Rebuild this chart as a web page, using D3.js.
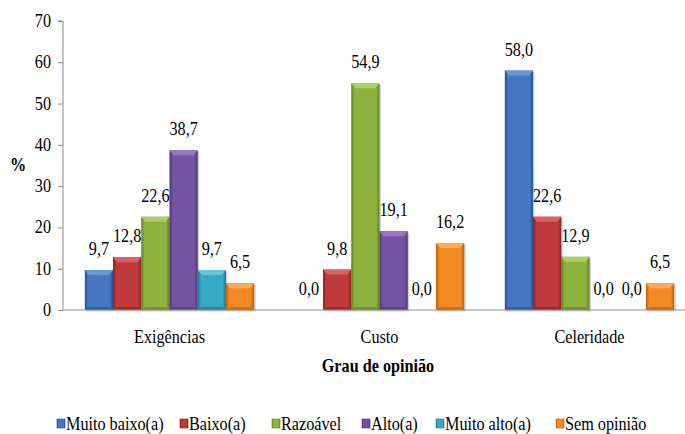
<!DOCTYPE html>
<html>
<head>
<meta charset="utf-8">
<script src="https://cdn.jsdelivr.net/npm/d3@7"></script>
</head>
<body style="margin:0">
<svg id="chart" width="685" height="434"></svg>
<script>
// Survey results: share of respondents (%) per opinion level
const categories = ["Exigências", "Custo", "Celeridade"];
const seriesNames = ["Muito baixo(a)", "Baixo(a)", "Razoável", "Alto(a)", "Muito alto(a)", "Sem opinião"];
const muitoBaixo = [9.7, 0.0, 58.0];
const baixo      = [12.8, 9.8, 22.6];
const razoavel   = [22.6, 54.9, 12.9];
const alto       = [38.7, 19.1, 0.0];
const muitoAlto  = [9.7, 0.0, 0.0];
const semOpiniao = [6.5, 16.2, 6.5];
const yTicks = [0, 10, 20, 30, 40, 50, 60, 70];
const seriesValues = [muitoBaixo, baixo, razoavel, alto, muitoAlto, semOpiniao];

// Base / dark / light tones for each series
const palette = [
  { base: "#4677c0", dark: "#234f8f", light: "#6f9ad6" },
  { base: "#c0393b", dark: "#8a1f21", light: "#d9686a" },
  { base: "#8db33e", dark: "#5e7e22", light: "#b0cf6a" },
  { base: "#7553a3", dark: "#4c3275", light: "#9a7dc4" },
  { base: "#36a9c6", dark: "#1b7790", light: "#6cc6dc" },
  { base: "#f28a22", dark: "#b85f0b", light: "#f8ae5f" }
];

const FS = 18, SX = 0.9; // font size and horizontal squeeze of the serif text

const svg = d3.select("#chart");
const margin = { left: 63, top: 21, bottom: 310 };
const y = d3.scaleLinear().domain([0, 70]).range([margin.bottom, margin.top]);
const x0 = d3.scaleBand().domain(categories).range([64.5, 694.5]);
const x1 = d3.scaleBand().domain(seriesNames).range([0, x0.bandwidth()]).paddingOuter(0.72);

const marks = svg.append("g");
const texts = []; // collected, drawn last straight into the svg root

function label(tx, ty, str, anchor, weight) {
  texts.push({ tx, ty, str, anchor: anchor || "middle", weight: weight || "normal" });
}

// gradients
const defs = svg.append("defs");
palette.forEach((c, i) => {
  const gr = defs.append("linearGradient").attr("id", "bar" + i)
    .attr("x1", "0").attr("x2", "1").attr("y1", "0").attr("y2", "0");
  gr.append("stop").attr("offset", "0").attr("stop-color", c.dark);
  gr.append("stop").attr("offset", "0.12").attr("stop-color", c.base);
  gr.append("stop").attr("offset", "0.5").attr("stop-color", c.base);
  gr.append("stop").attr("offset", "0.88").attr("stop-color", c.base);
  gr.append("stop").attr("offset", "1").attr("stop-color", c.dark);
});

// y axis
const yAxis = marks.append("g").attr("transform", `translate(${margin.left},0)`)
  .call(d3.axisLeft(y).tickValues(yTicks).tickSize(5).tickFormat(""));
yAxis.select(".domain").attr("stroke", "#8c8c8c").attr("d", `M-5,${y(70)}H0V${y(0)}`);
yAxis.selectAll(".tick line").attr("stroke", "#8c8c8c");
yAxis.selectAll(".tick text").remove();
yTicks.forEach(v => label(margin.left - 12, y(v) + 6, String(v), "end"));

// bars
categories.forEach((cat, ci) => {
  const gx = x0(cat);
  seriesNames.forEach((s, si) => {
    const v = seriesValues[si][ci];
    const bx = gx + x1(s), bw = x1.bandwidth(), top = y(v), h = y(0) - y(v);
    if (h > 0) {
      marks.append("rect").attr("x", bx + 1.5).attr("y", top + 1.5).attr("width", bw).attr("height", h)
        .attr("fill", "#000").attr("opacity", 0.18);
      marks.append("rect").attr("x", bx).attr("y", top).attr("width", bw).attr("height", h)
        .attr("fill", `url(#bar${si})`);
      // bevelled top and bottom edges
      const bev = Math.min(5, h / 2);
      marks.append("path")
        .attr("d", `M${bx},${top}H${bx + bw}L${bx + bw - 4},${top + bev}H${bx + 4}Z`)
        .attr("fill", palette[si].light).attr("opacity", 0.9);
      marks.append("path")
        .attr("d", `M${bx},${y(0)}H${bx + bw}L${bx + bw - 4},${y(0) - Math.min(3, h / 3)}H${bx + 4}Z`)
        .attr("fill", palette[si].dark).attr("opacity", 0.6);
    }
    label(bx + bw / 2, top - 15, d3.format(".1f")(v).replace(".", ","), "middle");
  });
});

// x axis
marks.append("line").attr("x1", margin.left).attr("x2", 685).attr("y1", y(0)).attr("y2", y(0))
  .attr("stroke", "#8c8c8c");
categories.forEach(c => label(x0(c) + x0.bandwidth() / 2, 343, c, "middle"));

// axis titles
label(378, 372, "Grau de opinião", "middle", "bold");
label(18, 171, "%", "middle", "bold");

// legend
const legendX = [57, 180, 272, 362, 436, 556];
seriesNames.forEach((s, i) => {
  const lx = legendX[i];
  marks.append("rect").attr("x", lx).attr("y", 419).attr("width", 8).attr("height", 9)
    .attr("fill", `url(#bar${i})`).attr("stroke", palette[i].dark).attr("stroke-width", 0.6);
  label(lx + 9, 430, s, "start");
});

// all text, condensed serif
texts.forEach(t => {
  const el = svg.append("text")
    .attr("transform", `translate(${t.tx},${t.ty}) scale(${SX},1)`)
    .attr("font-family", "Liberation Serif")
    .attr("font-size", FS)
    .attr("text-anchor", t.anchor)
    .text(t.str);
  if (t.weight === "bold") el.attr("font-weight", "bold");
});
</script>
</body>
</html>
